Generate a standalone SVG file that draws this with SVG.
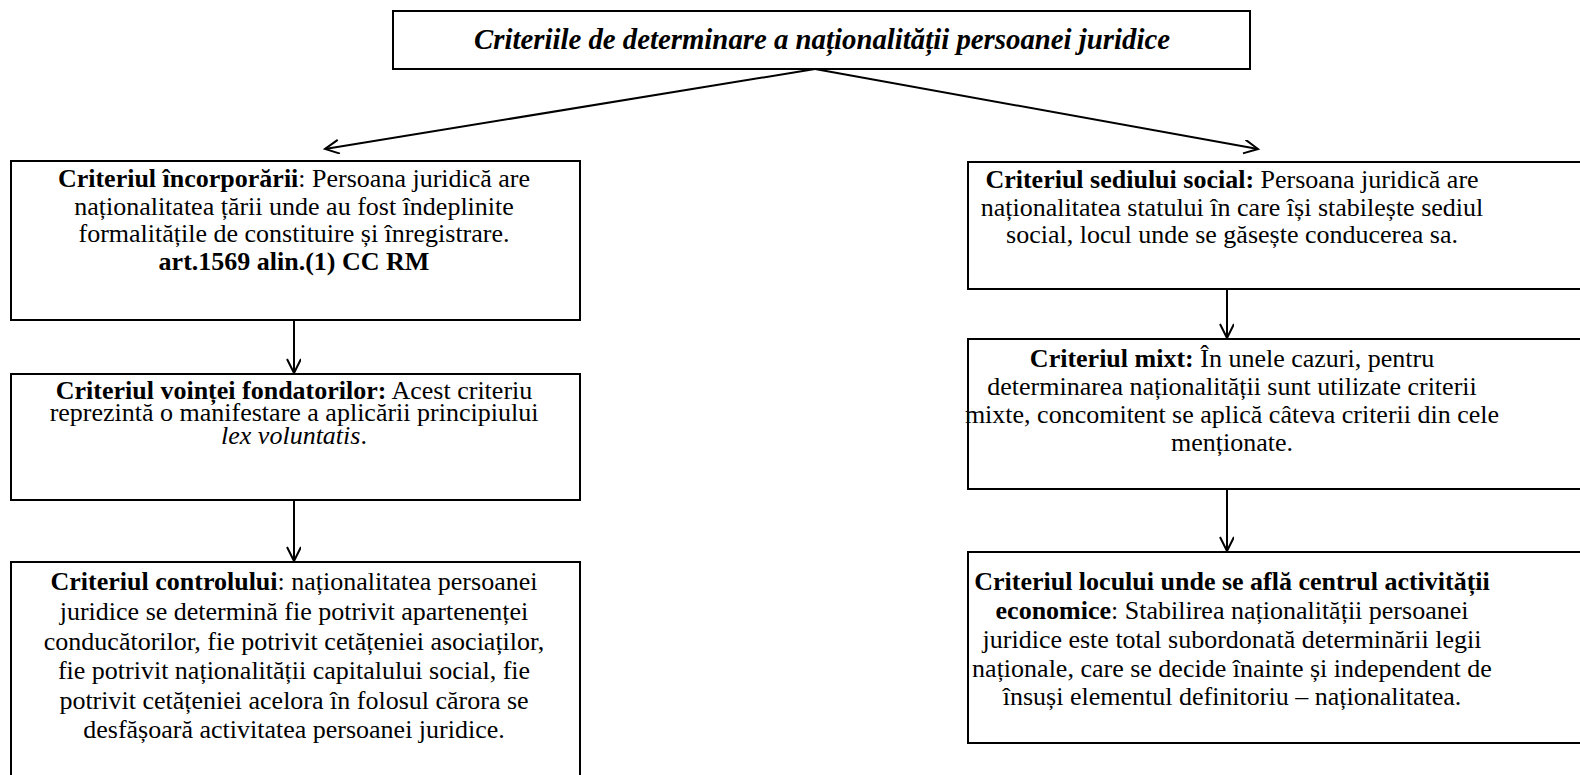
<svg xmlns="http://www.w3.org/2000/svg" width="1580" height="775" viewBox="0 0 1580 775">
<style>
.box{fill:#fff;stroke:#000;stroke-width:2}
.t{font-family:"Liberation Serif","Times New Roman",serif;font-size:26px;fill:#000;text-anchor:middle}
.title{font-family:"Liberation Serif","Times New Roman",serif;font-size:28.8px;font-weight:bold;font-style:italic;fill:#000;text-anchor:middle}
.b{font-weight:bold}
.i{font-style:italic}
.c{fill:none;stroke:#000;stroke-width:2}
</style>
<defs>
<marker id="arr" markerWidth="18" markerHeight="16" refX="15" refY="7" orient="auto" markerUnits="userSpaceOnUse">
<path d="M1,0 L15,7 L1,14" fill="none" stroke="#000" stroke-width="2"/>
</marker>
</defs>
<rect width="1580" height="775" fill="#fff"/>
<g id="connectors">
<line class="c" x1="815" y1="69" x2="325" y2="149" marker-end="url(#arr)"/>
<line class="c" x1="815" y1="69" x2="1258" y2="149" marker-end="url(#arr)"/>
<line class="c" x1="294" y1="320" x2="294" y2="373" marker-end="url(#arr)"/>
<line class="c" x1="294" y1="500" x2="294" y2="561" marker-end="url(#arr)"/>
<line class="c" x1="1227" y1="289" x2="1227" y2="338" marker-end="url(#arr)"/>
<line class="c" x1="1227" y1="489" x2="1227" y2="551" marker-end="url(#arr)"/>
</g>
<g id="title">
<rect class="box" x="393" y="11" width="857" height="58"/>
<text class="title" x="822" y="49">Criteriile de determinare a naționalității persoanei juridice</text>
</g>
<g id="incorporare">
<rect class="box" x="11" y="161" width="569" height="159"/>
<text class="t" x="294" y="187"><tspan class="b">Criteriul încorporării</tspan>: Persoana juridică are</text>
<text class="t" x="294" y="215">naționalitatea țării unde au fost îndeplinite</text>
<text class="t" x="294" y="242">formalitățile de constituire și înregistrare.</text>
<text class="t b" x="294" y="270">art.1569 alin.(1) CC RM</text>
</g>
<g id="vointa">
<rect class="box" x="11" y="374" width="569" height="126"/>
<text class="t" x="294" y="399"><tspan class="b">Criteriul voinței fondatorilor:</tspan> Acest criteriu</text>
<text class="t" x="294" y="421">reprezintă o manifestare a aplicării principiului</text>
<text class="t" x="294" y="444"><tspan class="i">lex voluntatis</tspan>.</text>
</g>
<g id="control">
<rect class="box" x="11" y="562" width="569" height="240"/>
<text class="t" x="294" y="590"><tspan class="b">Criteriul controlului</tspan>: naționalitatea persoanei</text>
<text class="t" x="294" y="620">juridice se determină fie potrivit apartenenței</text>
<text class="t" x="294" y="650">conducătorilor, fie potrivit cetățeniei asociaților,</text>
<text class="t" x="294" y="679">fie potrivit naționalității capitalului social, fie</text>
<text class="t" x="294" y="709">potrivit cetățeniei acelora în folosul cărora se</text>
<text class="t" x="294" y="738">desfășoară activitatea persoanei juridice.</text>
</g>
<g id="sediu">
<rect class="box" x="968" y="162" width="630" height="127"/>
<text class="t" x="1232" y="188"><tspan class="b">Criteriul sediului social:</tspan> Persoana juridică are</text>
<text class="t" x="1232" y="216">naționalitatea statului în care își stabilește sediul</text>
<text class="t" x="1232" y="243">social, locul unde se găsește conducerea sa.</text>
</g>
<g id="mixt">
<rect class="box" x="968" y="339" width="630" height="150"/>
<text class="t" x="1232" y="367"><tspan class="b">Criteriul mixt:</tspan> În unele cazuri, pentru</text>
<text class="t" x="1232" y="395">determinarea naționalității sunt utilizate criterii</text>
<text class="t" x="1232" y="423">mixte, concomitent se aplică câteva criterii din cele</text>
<text class="t" x="1232" y="451">menționate.</text>
</g>
<g id="centru">
<rect class="box" x="968" y="552" width="630" height="191"/>
<text class="t b" x="1232" y="590">Criteriul locului unde se află centrul activității</text>
<text class="t" x="1232" y="619"><tspan class="b">economice</tspan>: Stabilirea naționalității persoanei</text>
<text class="t" x="1232" y="648">juridice este total subordonată determinării legii</text>
<text class="t" x="1232" y="677">naționale, care se decide înainte și independent de</text>
<text class="t" x="1232" y="705">însuși elementul definitoriu – naționalitatea.</text>
</g>
</svg>
